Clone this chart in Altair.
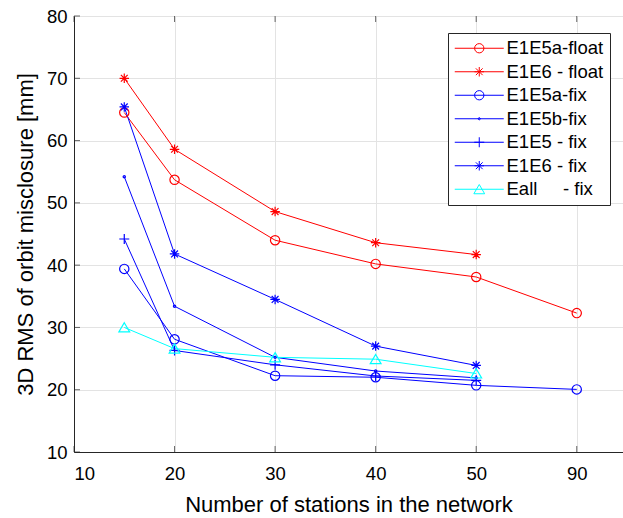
import altair as alt
import numpy as np
import pandas as pd

# ---- data ----
stations = [15, 20, 30, 40, 50, 90]
tick_labels = [10, 20, 30, 40, 50, 90]
y_ticks = [10, 20, 30, 40, 50, 60, 70, 80]

NB = "\u00a0"
series_names = ["E1E5a-float", "E1E6 - float", "E1E5a-fix", "E1E5b-fix",
                "E1E5 - fix", "E1E6 - fix", "Eall" + NB * 5 + "- fix"]
e1e5a_float = [64.5, 53.7, 44.0, 40.2, 38.1, 32.3]
e1e6_float = [70.0, 58.6, 48.6, 43.6, 41.7, None]
e1e5a_fix = [39.4, 28.1, 22.25, 22.0, 20.7, 20.05]
e1e5b_fix = [54.2, 33.4, 25.2, 23.0, 21.9, None]
e1e5_fix = [44.2, 26.3, 24.0, 22.2, 21.5, None]
e1e6_fix = [65.4, 41.8, 34.5, 27.0, 23.9, None]
eall_fix = [30.0, 26.6, 25.2, 24.9, 22.6, None]

series_values = [e1e5a_float, e1e6_float, e1e5a_fix, e1e5b_fix,
                 e1e5_fix, e1e6_fix, eall_fix]
colors = ["#ff0000", "#ff0000", "#0000ff", "#0000ff", "#0000ff", "#0000ff", "#00ffff"]

# marker shapes (unit = sqrt(size)/2 px)
circle = "M0.93,0A0.93,0.93 0 1,1 -0.93,0A0.93,0.93 0 1,1 0.93,0Z"
star = "M-0.95,0H0.95M0,-0.95V0.95M-0.68,-0.68L0.68,0.68M-0.68,0.68L0.68,-0.68"
dot = "M0.22,0A0.22,0.22 0 1,1 -0.22,0A0.22,0.22 0 1,1 0.22,0Z"
plus = "M-1,0H1M0,-1V1"
tri = "M0,-0.95L1.08,0.9L-1.08,0.9Z"
markers = [circle, star, circle, dot, plus, star, tri]
legend_line = "M-4.9,0H4.9"
legend_shapes = [legend_line + m for m in markers]

# x position: tick labels are evenly spaced categories
pos = np.interp(stations, tick_labels, np.arange(len(tick_labels)))

rows = []
for name, vals in zip(series_names, series_values):
    for p, v in zip(pos, vals):
        if v is not None:
            rows.append({"series": name, "pos": float(p), "y": v})
df = pd.DataFrame(rows)

FONT = "Liberation Sans"
x_label_expr = "[" + ",".join("'%s'" % t for t in tick_labels) + "][datum.value]"

x_scale = alt.Scale(domain=[0, 5.46], nice=False, zero=False)
y_scale = alt.Scale(domain=[10, 80], nice=False, zero=False)

x_enc = alt.X("pos:Q", scale=x_scale,
              axis=alt.Axis(values=list(range(len(tick_labels))), labelExpr=x_label_expr,
                            title="Number of stations in the network",
                            tickSize=0, labelPadding=12, titlePadding=12,
                            grid=True))
y_enc = alt.Y("y:Q", scale=y_scale,
              axis=alt.Axis(values=y_ticks, title="3D RMS of orbit misclosure [mm]",
                            tickSize=0, labelPadding=7, titlePadding=9, grid=True))

color_scale = alt.Scale(domain=series_names, range=colors)

base = alt.Chart(df)

lines = base.mark_line(strokeWidth=1, clip=True).encode(
    x=x_enc, y=y_enc,
    color=alt.Color("series:N", scale=color_scale, legend=None),
)

points = base.mark_point(filled=False, size=100, strokeWidth=1.2, opacity=1).encode(
    x="pos:Q", y="y:Q",
    color=alt.Color("series:N", scale=color_scale, legend=None),
    shape=alt.Shape("series:N", scale=alt.Scale(domain=series_names, range=markers), legend=None),
)

legend_layer = base.mark_point(filled=False, size=100, strokeWidth=1, opacity=1).encode(
    x="pos:Q", y="y:Q",
    color=alt.Color("series:N", scale=color_scale,
                    legend=alt.Legend(title=None, orient="none", legendX=374, legendY=17,
                                      padding=6, strokeColor="#262626", fillColor="white",
                                      labelFont=FONT, labelFontSize=18.5, labelColor="black",
                                      symbolSize=100, symbolStrokeWidth=1,
                                      rowPadding=4.5, labelOffset=18, symbolOffset=16)),
    shape=alt.Shape("series:N", scale=alt.Scale(domain=series_names, range=legend_shapes)),
).transform_filter("datum.y < 0")

# inward tick marks (MATLAB style)
xt = pd.DataFrame({"pos": list(range(len(tick_labels)))})
yt = pd.DataFrame({"y": y_ticks})
tick_style = dict(color="#262626", thickness=1, size=6)
bottom_ticks = alt.Chart(xt).mark_tick(orient="vertical", yOffset=-3, **tick_style).encode(
    x="pos:Q", y=alt.datum(10))
top_ticks = alt.Chart(xt).mark_tick(orient="vertical", yOffset=3, **tick_style).encode(
    x="pos:Q", y=alt.datum(80))
left_ticks = alt.Chart(yt).mark_tick(orient="horizontal", xOffset=3, **tick_style).encode(
    y="y:Q", x=alt.datum(0))

chart = alt.layer(lines, points, bottom_ticks, top_ticks, left_ticks, legend_layer).resolve_scale(
    color="independent", shape="independent"
).properties(
    width=549, height=436,
    autosize=alt.AutoSizeParams(type="none"),
    padding={"left": 74, "top": 16, "right": 0, "bottom": 66},
    background="white",
).configure_view(
    stroke="#262626", strokeWidth=1
).configure_axis(
    labelFont=FONT, titleFont=FONT, labelFontSize=18.5, titleFontSize=22,
    titleFontWeight="normal", labelColor="black", titleColor="black",
    domainColor="#262626", gridColor="#e3e3e3", gridWidth=1,
)

chart.save("out.html", embed_options={"renderer": "svg", "actions": False})
